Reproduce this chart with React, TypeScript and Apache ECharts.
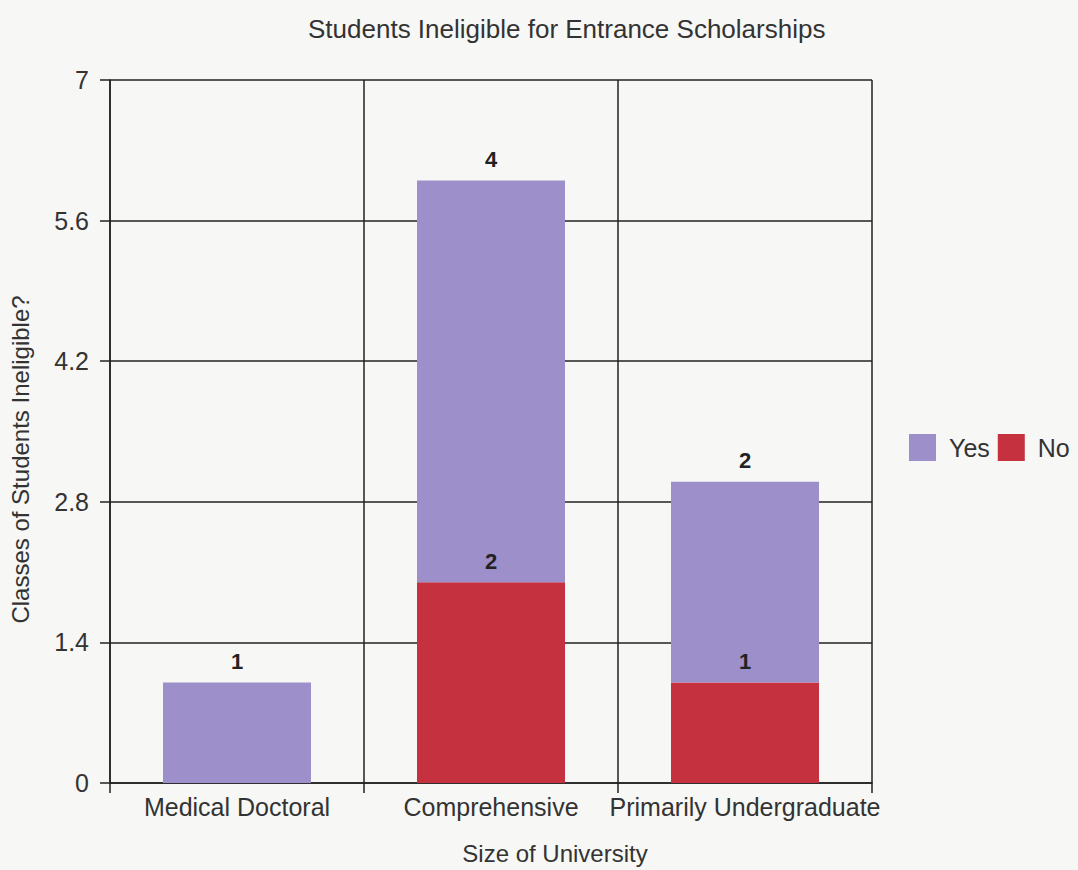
import React, { useEffect, useRef } from "react";
import * as echarts from "echarts";

const categories = ["Medical Doctoral", "Comprehensive", "Primarily Undergraduate"];
const yesValues = [1, 4, 2];
const noValues = [0, 2, 1];
const seriesNames = ["Yes", "No"];
const yTicks = { min: 0, max: 7, interval: 1.4 };

const FONT = "'Liberation Sans', Arial, sans-serif";
const YES_COLOR = "#9d8fc9";
const NO_COLOR = "#c6313f";

export default function App() {
  const ref = useRef<HTMLDivElement>(null);

  useEffect(() => {
    if (!ref.current) return;
    const chart = echarts.init(ref.current, null, { renderer: "svg" });
    const valueLabel = {
      show: true,
      position: "top",
      distance: 10,
      color: "#222",
      fontFamily: FONT,
      fontSize: 22,
      fontWeight: "bold",
      formatter: (p: any) => (p.value ? String(p.value) : ""),
    };
    chart.setOption({
      animation: false,
      backgroundColor: "#f7f7f5",
      textStyle: { fontFamily: FONT },
      title: {
        text: "Students Ineligible for Entrance Scholarships",
        left: 303,
        top: 11,
        textStyle: { fontFamily: FONT, fontSize: 26, fontWeight: "normal", color: "#333" },
      },
      legend: {
        data: seriesNames,
        left: 904,
        top: 429,
        icon: "rect",
        itemWidth: 27,
        itemHeight: 27,
        itemGap: 8,
        textStyle: { fontFamily: FONT, fontSize: 25, color: "#333", padding: [0, 0, 0, 8] },
      },
      grid: { left: 110, right: 206, top: 80, bottom: 84, containLabel: false },
      xAxis: {
        type: "category",
        data: categories,
        boundaryGap: true,
        name: "Size of University",
        nameLocation: "middle",
        nameGap: 58,
        nameTextStyle: { fontFamily: FONT, fontSize: 24, color: "#333", padding: [0, 0, 0, 128] },
        axisLine: { show: true, lineStyle: { color: "#222", width: 1.5 } },
        axisTick: { show: true, length: 10, alignWithLabel: false, lineStyle: { color: "#222", width: 1.5 } },
        axisLabel: { fontFamily: FONT, fontSize: 25, color: "#333", margin: 11, interval: 0 },
        splitLine: { show: true, interval: 0, lineStyle: { color: "#222", width: 1.5 } },
      },
      yAxis: {
        type: "value",
        min: yTicks.min,
        max: yTicks.max,
        interval: yTicks.interval,
        name: "Classes of Students Ineligible?",
        nameLocation: "middle",
        nameGap: 78,
        nameTextStyle: { fontFamily: FONT, fontSize: 24, color: "#333", padding: [0, 56, 0, 0] },
        axisLine: { show: true, lineStyle: { color: "#222", width: 1.5 } },
        axisTick: { show: true, length: 10, lineStyle: { color: "#222", width: 1.5 } },
        axisLabel: { fontFamily: FONT, fontSize: 25, color: "#333", margin: 21 },
        splitLine: { show: true, lineStyle: { color: "#222", width: 1.5 } },
      },
      series: [
        {
          name: "No",
          type: "bar",
          stack: "total",
          data: noValues,
          barWidth: 148,
          itemStyle: { color: NO_COLOR },
          label: valueLabel,
        },
        {
          name: "Yes",
          type: "bar",
          stack: "total",
          data: yesValues,
          barWidth: 148,
          itemStyle: { color: YES_COLOR },
          label: valueLabel,
        },
      ],
    });
    return () => chart.dispose();
  }, []);

  return (
    <div
      ref={ref}
      style={{ position: "absolute", left: 0, top: 0, width: 1078, height: 870 }}
    />
  );
}
